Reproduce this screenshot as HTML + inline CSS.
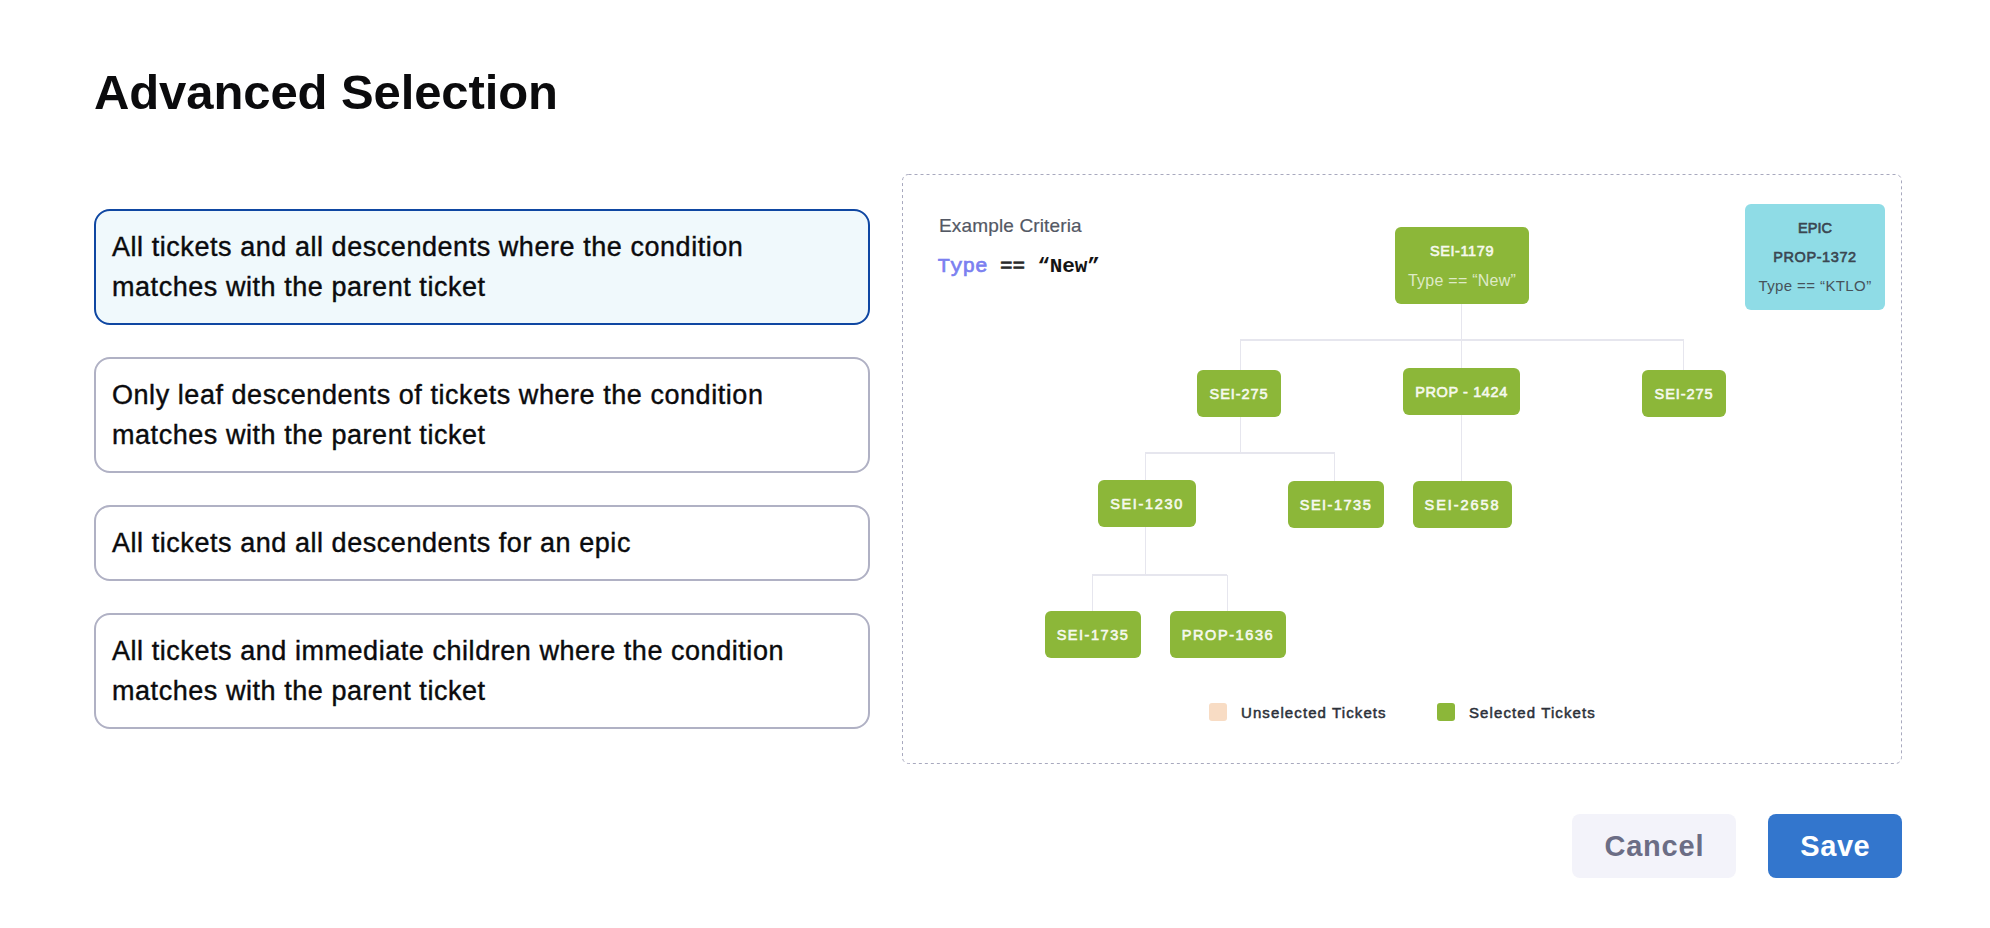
<!DOCTYPE html>
<html>
<head>
<meta charset="utf-8">
<style>
html,body{margin:0;padding:0;background:#ffffff;width:1990px;height:928px;overflow:hidden;position:relative;font-family:"Liberation Sans",sans-serif;}
.abs{position:absolute;}
.title{position:absolute;left:94px;top:64.2px;height:56px;line-height:56px;font-size:49px;font-weight:bold;color:#0b0b0d;letter-spacing:-0.1px;white-space:nowrap;}
.card{position:absolute;left:94px;width:776px;box-sizing:border-box;border:2px solid #b0b1c4;border-radius:16px;background:#fff;padding:16px 16px 16px 16px;}
.card.sel{border-color:#0f47a2;background:#f0f9fc;}
.card .t{font-size:27px;line-height:40px;color:#0b0b0d;letter-spacing:0.55px;white-space:nowrap;-webkit-text-stroke:0.4px #0b0b0d;position:relative;top:-0.4px;}
.node{position:absolute;background:#8cb739;border-radius:6px;color:#f6f9ee;font-size:14.5px;white-space:nowrap;-webkit-text-stroke:0.6px #f6f9ee;}
.node.one{line-height:48px;text-align:center;}
.node .lb{position:absolute;left:0;right:0;text-align:center;line-height:20px;}
.node .sub{font-size:16px;color:#dfeac6;-webkit-text-stroke:0;}
.node.epic{background:#8fdce6;color:#3a4650;-webkit-text-stroke:0.6px #3a4650;}
.node.epic .sub{font-size:15px;color:#46525a;-webkit-text-stroke:0;}
.ln{position:absolute;background:#e6e6ee;}
.leg{top:703px;height:20px;line-height:20px;font-size:15px;font-weight:normal;color:#2c313a;letter-spacing:1.1px;white-space:nowrap;-webkit-text-stroke:0.5px #2c313a;}
.btn{position:absolute;top:814px;height:64px;line-height:64px;border-radius:8px;text-align:center;font-size:29px;font-weight:bold;white-space:nowrap;}
</style>
</head>
<body>
<div class="title">Advanced Selection</div>

<div class="card sel" style="top:209px;height:116px;"><div class="t">All tickets and all descendents where the condition<br>matches with the parent ticket</div></div>
<div class="card" style="top:357px;height:116px;"><div class="t">Only leaf descendents of tickets where the condition<br>matches with the parent ticket</div></div>
<div class="card" style="top:505px;height:76px;"><div class="t">All tickets and all descendents for an epic</div></div>
<div class="card" style="top:613px;height:116px;"><div class="t">All tickets and immediate children where the condition<br>matches with the parent ticket</div></div>

<svg class="abs" style="left:0;top:0;" width="1990" height="928"><rect x="902.5" y="174.5" width="999" height="589" rx="6" ry="6" fill="none" stroke="#a8a9be" stroke-width="1" stroke-dasharray="3 3"/></svg>

<div class="abs" style="left:939px;top:213.7px;height:24px;line-height:24px;font-size:19px;color:#535864;letter-spacing:0.15px;white-space:nowrap;-webkit-text-stroke:0.2px #535864;">Example Criteria</div>
<div class="abs" style="left:937.5px;top:254.6px;height:24px;line-height:24px;font-size:21px;letter-spacing:-0.12px;font-family:'Liberation Mono',monospace;white-space:pre;color:#141414;"><span style="color:#7b80f0;-webkit-text-stroke:0.7px #7b80f0;">Type</span> <span style="color:#2a2a2a;-webkit-text-stroke:0.6px #2a2a2a;">==</span> <b>&ldquo;New&rdquo;</b></div>

<!-- connector lines -->
<div class="ln" style="left:1460.55px;top:304px;width:1.3px;height:64px;"></div>
<div class="ln" style="left:1240px;top:339.35px;width:444px;height:1.3px;"></div>
<div class="ln" style="left:1239.55px;top:340px;width:1.3px;height:30px;"></div>
<div class="ln" style="left:1682.55px;top:340px;width:1.3px;height:30px;"></div>
<div class="ln" style="left:1239.55px;top:417px;width:1.3px;height:36px;"></div>
<div class="ln" style="left:1145px;top:452.35px;width:190px;height:1.3px;"></div>
<div class="ln" style="left:1144.55px;top:453px;width:1.3px;height:27px;"></div>
<div class="ln" style="left:1333.55px;top:453px;width:1.3px;height:28px;"></div>
<div class="ln" style="left:1460.55px;top:415px;width:1.3px;height:66px;"></div>
<div class="ln" style="left:1144.55px;top:527px;width:1.3px;height:48px;"></div>
<div class="ln" style="left:1092px;top:574.35px;width:135px;height:1.3px;"></div>
<div class="ln" style="left:1091.55px;top:575px;width:1.3px;height:36px;"></div>
<div class="ln" style="left:1226.55px;top:575px;width:1.3px;height:36px;"></div>

<!-- nodes -->
<div class="node" style="left:1395px;top:227px;width:134px;height:77px;">
  <div class="lb" id="n1" style="top:13.8px;letter-spacing:0.6px;">SEI-1179</div>
  <div class="lb sub" id="n2" style="top:43.8px;letter-spacing:0.25px;">Type == &ldquo;New&rdquo;</div>
</div>
<div class="node epic" style="left:1745px;top:204px;width:140px;height:106px;">
  <div class="lb" id="e1" style="top:13.9px;letter-spacing:0px;">EPIC</div>
  <div class="lb" id="e2" style="top:42.9px;letter-spacing:0.6px;">PROP-1372</div>
  <div class="lb sub" id="e3" style="top:72.3px;letter-spacing:0.4px;">Type == &ldquo;KTLO&rdquo;</div>
</div>
<div class="node one" id="m1" style="left:1197px;top:370px;width:84px;height:47px;letter-spacing:0.92px;">SEI-275</div>
<div class="node one" id="m2" style="left:1403px;top:368px;width:117px;height:47px;letter-spacing:0.61px;">PROP - 1424</div>
<div class="node one" id="m3" style="left:1642px;top:370px;width:84px;height:47px;letter-spacing:0.92px;">SEI-275</div>
<div class="node one" id="m4" style="left:1098px;top:480px;width:98px;height:47px;letter-spacing:1.66px;">SEI-1230</div>
<div class="node one" id="m5" style="left:1288px;top:481px;width:96px;height:47px;letter-spacing:1.51px;">SEI-1735</div>
<div class="node one" id="m6" style="left:1413px;top:481px;width:99px;height:47px;letter-spacing:1.93px;">SEI-2658</div>
<div class="node one" id="m7" style="left:1045px;top:611px;width:96px;height:47px;letter-spacing:1.53px;">SEI-1735</div>
<div class="node one" id="m8" style="left:1170px;top:611px;width:116px;height:47px;letter-spacing:1.6px;">PROP-1636</div>

<!-- legend -->
<div class="abs" style="left:1209px;top:703px;width:18px;height:18px;border-radius:3px;background:#f8dcc4;"></div>
<div class="abs leg" style="left:1241px;">Unselected Tickets</div>
<div class="abs" style="left:1437px;top:703px;width:18px;height:18px;border-radius:3px;background:#8cb739;"></div>
<div class="abs leg" style="left:1469px;">Selected Tickets</div>

<!-- buttons -->
<div class="btn" style="left:1572px;width:164px;background:#f3f3fa;color:#6b6d85;letter-spacing:0.8px;text-indent:0.8px;">Cancel</div>
<div class="btn" style="left:1768px;width:134px;background:#3376cd;color:#fff;letter-spacing:0.6px;text-indent:0.6px;">Save</div>
</body>
</html>
